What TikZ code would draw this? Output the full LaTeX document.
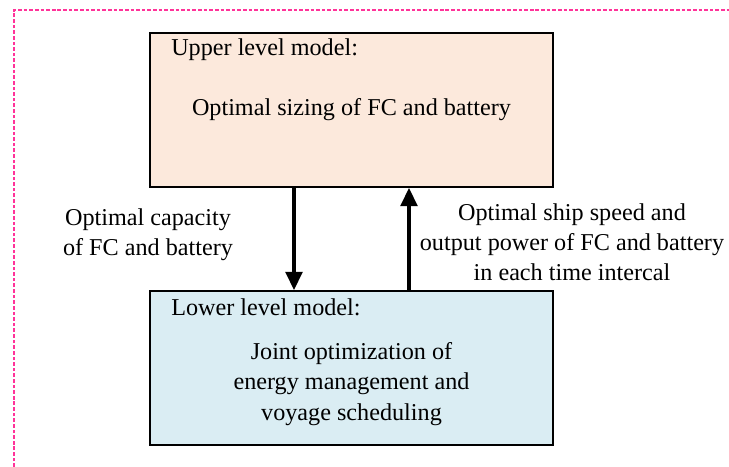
\documentclass[tikz,border=0pt]{standalone}
\usepackage{fontspec}
\setmainfont{Liberation Serif}
\usetikzlibrary{arrows.meta, positioning}
\definecolor{upfill}{HTML}{FCE9DC}
\definecolor{lofill}{HTML}{DAEDF3}
\definecolor{frmpink}{HTML}{FF3399}
\tikzset{
  lvl/.style={draw, line width=1.3pt, minimum width=10.075cm, minimum height=3.85cm, inner sep=0pt},
  txt/.style={font=\fontsize{17.2}{21.5}\selectfont, inner sep=0pt, align=center},
  flow/.style={line width=2.2pt, -{Triangle[length=13pt, width=12pt]}},
  frm/.style={draw=frmpink, line width=1.4pt, dash pattern=on 2.6pt off 1.4pt}
}

\begin{document}
\begin{tikzpicture}
		\useasboundingbox (0,0) rectangle (18.225,-11.675);
		\draw[frm] (0.35,-11.675) -- (0.35,-0.25) -- (18.225,-0.25);
		\node[lvl, fill=upfill, txt] (up) at (8.7875,-2.75) {Optimal sizing of FC and battery};
		\node[lvl, fill=lofill] (lo) at (8.7875,-9.2) {};
		\node[txt, anchor=west] (uphead) at (4.275,-1.25) {Upper level model:};
		\node[txt, anchor=west] (lohead) at (4.275,-7.675) {Lower level model:};
		\node[txt] (lobody) at (8.7875,-9.6) {Joint optimization of\\energy management and\\voyage scheduling};
		\draw[flow] ([xshift=-1.4375cm]up.south) -- ([xshift=-1.4375cm]lo.north);
		\draw[flow] ([xshift=1.4375cm]lo.north) -- ([xshift=1.4375cm]up.south);
		\node[txt] (caplab) at (3.7,-5.875) {Optimal capacity\\of FC and battery};
		\node[txt] (speedlab) at (14.3,-6.05) {Optimal ship speed and\\output power of FC and battery\\in each time intercal};
	\end{tikzpicture}
\end{document}
